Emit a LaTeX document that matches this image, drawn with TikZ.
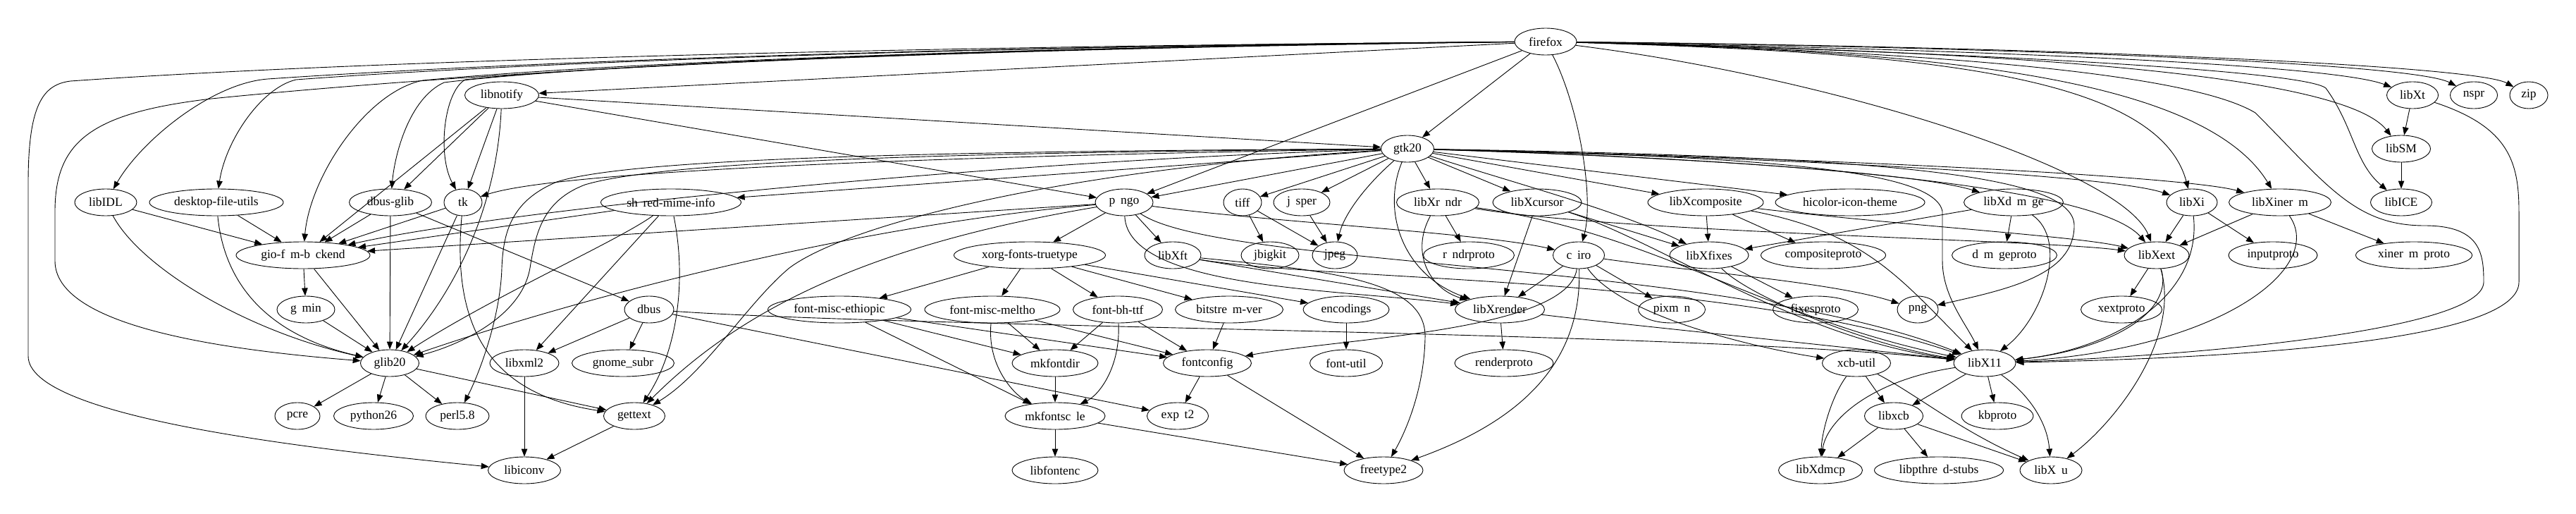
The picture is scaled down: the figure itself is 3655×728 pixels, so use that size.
\documentclass[tikz,border=0pt]{standalone}
\usepackage{fontspec}
\setmainfont{Liberation Serif}
\usetikzlibrary{arrows.meta,shapes.geometric}
\newcommand\missa{\hspace{0.44em}}
\begin{document}
\begin{tikzpicture}[x=1pt,y=-1pt,
  nd/.style={draw, ellipse, line width=0.9pt, minimum height=38pt, inner sep=0pt, font=\fontsize{17.5}{17.5}\selectfont},
  ed/.style={line width=0.9pt, -{Triangle[length=11pt,width=8.5pt]}}]
\useasboundingbox[fill=white] (0,0) rectangle (3655,728);
% row 1-3
\node[nd,minimum width=88pt] (ff) at (2193,59) {firefox};
\node[nd,minimum width=105pt] (notify) at (712,135) {libnotify};
\node[nd,minimum width=73pt] (xt) at (3423,135) {libXt};
\node[nd,minimum width=67pt] (nspr) at (3510,135) {nspr};
\node[nd,minimum width=54pt] (zip) at (3588,135) {zip};
\node[nd,minimum width=75pt] (gtk) at (1997,211) {gtk20};
\node[nd,minimum width=83pt] (sm) at (3407,211) {libSM};
% row 4
\node[nd,minimum width=88pt] (idl) at (150,287) {libIDL};
\node[nd,minimum width=190pt] (dfu) at (307,287) {desktop-file-utils};
\node[nd,minimum width=117pt] (dbg) at (554,287) {dbus-glib};
\node[nd,minimum width=54pt] (tk) at (657,287) {tk};
\node[nd,minimum width=199pt] (shm) at (952,287) {sh\missa red-mime-info};
\node[nd,minimum width=82pt] (pango) at (1595,287) {p\missa ngo};
\node[nd,minimum width=54pt] (tiff) at (1763,287) {tiff};
\node[nd,minimum width=80pt] (jasper) at (1847,287) {j\missa sper};
\node[nd,minimum width=117pt] (xrandr) at (2040,287) {libXr\missa ndr};
\node[nd,minimum width=126pt] (xcursor) at (2181,287) {libXcursor};
\node[nd,minimum width=164pt] (xcomp) at (2420,287) {libXcomposite};
\node[nd,minimum width=212pt] (hicolor) at (2625,287) {hicolor-icon-theme};
\node[nd,minimum width=141pt] (xdamage) at (2857,287) {libXd\missa m\missa ge};
\node[nd,minimum width=72pt] (xi) at (3110,287) {libXi};
\node[nd,minimum width=145pt] (xinerama) at (3235,287) {libXiner\missa m};
\node[nd,minimum width=87pt] (ice) at (3407,287) {libICE};
% row 5
\node[nd,minimum width=190pt] (gfb) at (430,362) {gio-f\missa m-b\missa ckend};
\node[nd,minimum width=215pt] (xfttt) at (1461,362) {xorg-fonts-truetype};
\node[nd,minimum width=80pt] (xft) at (1664,362) {libXft};
\node[nd,minimum width=82pt] (jbig) at (1802,362) {jbigkit};
\node[nd,minimum width=64pt] (jpeg) at (1894,362) {jpeg};
\node[nd,minimum width=129pt] (randrp) at (2084,362) {r\missa ndrproto};
\node[nd,minimum width=73pt] (cairo) at (2240,362) {c\missa iro};
\node[nd,minimum width=112pt] (xfixes) at (2425,362) {libXfixes};
\node[nd,minimum width=177pt] (compp) at (2587,362) {compositeproto};
\node[nd,minimum width=149pt] (damp) at (2844,362) {d\missa m\missa geproto};
\node[nd,minimum width=92pt] (xext) at (3060,362) {libXext};
\node[nd,minimum width=126pt] (inputp) at (3225,362) {inputproto};
\node[nd,minimum width=165pt] (xinp) at (3425,362) {xiner\missa m\missa proto};
% row 6
\node[nd,minimum width=82pt] (gamin) at (434,439) {g\missa min};
\node[nd,minimum width=70pt] (dbus) at (921,439) {dbus};
\node[nd,minimum width=203pt] (fme) at (1191,439) {font-misc-ethiopic};
\node[nd,minimum width=192pt] (fmm) at (1408,439) {font-misc-meltho};
\node[nd,minimum width=127pt] (fbh) at (1586,439) {font-bh-ttf};
\node[nd,minimum width=153pt] (vera) at (1744,439) {bitstre\missa m-ver\missa};
\node[nd,minimum width=122pt] (enc) at (1910,439) {encodings};
\node[nd,minimum width=127pt] (xrender) at (2128,439) {libXrender};
\node[nd,minimum width=95pt] (pixman) at (2372,439) {pixm\missa n};
\node[nd,minimum width=121pt] (fixp) at (2576,439) {fixesproto};
\node[nd,minimum width=58pt] (png) at (2721,439) {png};
\node[nd,minimum width=115pt] (xextp) at (3010,439) {xextproto};
% row 7
\node[nd,minimum width=83pt] (glib) at (553,515) {glib20};
\node[nd,minimum width=98pt] (xml) at (744,515) {libxml2};
\node[nd,minimum width=145pt] (gsubr) at (884,515) {gnome\_subr};
\node[nd,minimum width=122pt] (mkdir) at (1497,515) {mkfontdir};
\node[nd,minimum width=125pt] (fc) at (1713,515) {fontconfig};
\node[nd,minimum width=103pt] (futil) at (1910,515) {font-util};
\node[nd,minimum width=140pt] (renderp) at (2134,515) {renderproto};
\node[nd,minimum width=97pt] (xcbu) at (2634,515) {xcb-util};
\node[nd,minimum width=88pt] (x11) at (2816,515) {libX11};
% row 8
\node[nd,minimum width=64pt] (pcre) at (422,590) {pcre};
\node[nd,minimum width=113pt] (py) at (530,590) {python26};
\node[nd,minimum width=90pt] (perl) at (649,590) {perl5.8};
\node[nd,minimum width=87pt] (gettext) at (900,590) {gettext};
\node[nd,minimum width=142pt] (mkscale) at (1497,590) {mkfontsc\missa le};
\node[nd,minimum width=87pt] (expat) at (1671,590) {exp\missa t2};
\node[nd,minimum width=83pt] (xcb) at (2687,590) {libxcb};
\node[nd,minimum width=102pt] (kbp) at (2834,590) {kbproto};
% row 9
\node[nd,minimum width=103pt] (iconv) at (744,667) {libiconv};
\node[nd,minimum width=122pt] (fontenc) at (1497,667) {libfontenc};
\node[nd,minimum width=112pt] (ft) at (1963,667) {freetype2};
\node[nd,minimum width=119pt] (xdmcp) at (2583,667) {libXdmcp};
\node[nd,minimum width=183pt] (pthr) at (2751,667) {libpthre\missa d-stubs};
\node[nd,minimum width=88pt] (xau) at (2910,667) {libX\missa u};

% ---- firefox edges ----
\draw[ed] (ff) -- (notify);
\draw[ed] (ff) -- (gtk);
\draw[ed] (ff) -- (pango);
\draw[ed] (ff) .. controls (2240,150) and (2262,280) .. (cairo);
\draw[ed] (ff) .. controls (1500,64) and (600,80) .. (100,115) .. controls (60,120) and (40,150) .. (40,260) -- (40,505) .. controls (40,590) and (420,635) .. (iconv);
\draw[ed] (ff) .. controls (1300,68) and (700,100) .. (300,140) .. controls (130,160) and (78,200) .. (78,300) -- (78,370) .. controls (78,460) and (300,495) .. (glib);
\draw[ed] (ff) .. controls (1300,66) and (700,90) .. (380,112) .. controls (300,118) and (200,200) .. (idl);
\draw[ed] (ff) .. controls (1300,66) and (700,92) .. (420,113) .. controls (370,125) and (320,200) .. (dfu);
\draw[ed] (ff) .. controls (1300,68) and (800,95) .. (600,114) .. controls (520,130) and (440,250) .. (gfb);
\draw[ed] (ff) .. controls (1300,68) and (800,96) .. (630,117) .. controls (580,140) and (560,220) .. (dbg);
\draw[ed] (ff) .. controls (1300,70) and (800,97) .. (660,113) .. controls (630,130) and (620,220) .. (tk);
\draw[ed] (ff) .. controls (2700,68) and (3300,88) .. (xt);
\draw[ed] (ff) .. controls (2800,66) and (3420,88) .. (nspr);
\draw[ed] (ff) .. controls (2900,66) and (3510,92) .. (zip);
\draw[ed] (ff) .. controls (2800,72) and (3320,100) .. (sm);
\draw[ed] (ff) .. controls (2800,74) and (3270,100) .. (3300,125) .. controls (3340,180) and (3340,230) .. (ice);
\draw[ed] (ff) .. controls (2700,74) and (3060,100) .. (xi);
\draw[ed] (ff) .. controls (2700,72) and (3120,100) .. (xinerama);
\draw[ed] (ff) .. controls (2600,110) and (3010,240) .. (xext);
\draw[ed] (ff) .. controls (2700,72) and (3100,100) .. (3200,160) .. controls (3300,260) and (3340,320) .. (3440,320) .. controls (3520,320) and (3524,360) .. (3524,400) .. controls (3524,470) and (3100,505) .. (x11);

% ---- libnotify ----
\draw[ed] (notify) -- (gtk);
\draw[ed] (notify) -- (pango);
\draw[ed] (notify) -- (dbg);
\draw[ed] (notify) -- (gfb);
\draw[ed] (notify) -- (tk);
\draw[ed] (notify) .. controls (705,300) and (640,420) .. (glib);

% ---- gtk20 ----
\draw[ed] (gtk) .. controls (1400,220) and (800,240) .. (tk);
\draw[ed] (gtk) -- (shm);
\draw[ed] (gtk) .. controls (1400,228) and (700,300) .. (gfb);
\draw[ed] (gtk) .. controls (1400,216) and (950,226) .. (830,262) .. controls (770,285) and (760,330) .. (752,380) .. controls (740,450) and (650,490) .. (glib);
\draw[ed] (gtk) .. controls (1400,214) and (900,222) .. (790,258) .. controls (725,285) and (714,330) .. (712,380) .. controls (710,450) and (680,530) .. (perl);
\draw[ed] (gtk) .. controls (1500,240) and (1200,320) .. (1120,380) .. controls (1060,430) and (1000,530) .. (gettext);
\draw[ed] (gtk) -- (pango);
\draw[ed] (gtk) -- (tiff);
\draw[ed] (gtk) -- (jasper);
\draw[ed] (gtk) .. controls (1930,270) and (1905,310) .. (jpeg);
\draw[ed] (gtk) -- (xrandr);
\draw[ed] (gtk) -- (xcursor);
\draw[ed] (gtk) -- (xcomp);
\draw[ed] (gtk) -- (hicolor);
\draw[ed] (gtk) .. controls (2300,220) and (2700,240) .. (xdamage);
\draw[ed] (gtk) .. controls (2150,260) and (2300,300) .. (xfixes);
\draw[ed] (gtk) .. controls (2600,226) and (3000,250) .. (xi);
\draw[ed] (gtk) .. controls (2600,224) and (3100,250) .. (xinerama);
\draw[ed] (gtk) .. controls (2600,228) and (2980,270) .. (xext);
\draw[ed] (gtk) .. controls (2500,222) and (2745,240) .. (2756,300) -- (2756,370) .. controls (2756,420) and (2790,460) .. (x11);
\draw[ed] (gtk) .. controls (2700,222) and (2943,250) .. (2943,320) .. controls (2943,390) and (2850,410) .. (png);
\draw[ed] (gtk) .. controls (1960,300) and (1990,390) .. (xrender);

% ---- pango ----
\draw[ed] (pango) -- (xfttt);
\draw[ed] (pango) -- (xft);
\draw[ed] (pango) .. controls (1800,315) and (2100,330) .. (cairo);
\draw[ed] (pango) -- (gfb);
\draw[ed] (pango) .. controls (1200,320) and (800,430) .. (glib);
\draw[ed] (pango) .. controls (1250,345) and (1060,430) .. (gettext);
\draw[ed] (pango) .. controls (1600,410) and (1900,410) .. (xrender);
\draw[ed] (pango) .. controls (1730,380) and (2450,370) .. (x11);

% ---- cairo ----
\draw[ed] (cairo) -- (xrender);
\draw[ed] (cairo) -- (pixman);
\draw[ed] (cairo) .. controls (2400,385) and (2600,400) .. (png);
\draw[ed] (cairo) .. controls (2225,470) and (1900,480) .. (fc);
\draw[ed] (cairo) .. controls (2245,520) and (2150,600) .. (ft);
\draw[ed] (cairo) .. controls (2300,450) and (2500,495) .. (xcbu);

% ---- fonts ----
\draw[ed] (xfttt) -- (fme);
\draw[ed] (xfttt) -- (fmm);
\draw[ed] (xfttt) -- (fbh);
\draw[ed] (xfttt) -- (vera);
\draw[ed] (xfttt) -- (enc);
\draw[ed] (xft) -- (xrender);
\draw[ed] (xft) .. controls (1900,385) and (2025,400) .. (2022,480) .. controls (2020,560) and (1990,620) .. (ft);
\draw[ed] (xft) .. controls (1900,400) and (2450,390) .. (x11);
\draw[ed] (fme) -- (mkdir);
\draw[ed] (fme) -- (mkscale);
\draw[ed] (fme) -- (fc);
\draw[ed] (fmm) -- (mkdir);
\draw[ed] (fmm) .. controls (1400,520) and (1440,560) .. (mkscale);
\draw[ed] (fmm) -- (fc);
\draw[ed] (fbh) -- (mkdir);
\draw[ed] (fbh) .. controls (1590,520) and (1560,560) .. (mkscale);
\draw[ed] (fbh) -- (fc);
\draw[ed] (vera) -- (fc);
\draw[ed] (enc) -- (futil);
\draw[ed] (mkdir) -- (mkscale);
\draw[ed] (mkscale) -- (fontenc);
\draw[ed] (mkscale) -- (ft);
\draw[ed] (fc) -- (expat);
\draw[ed] (fc) -- (ft);

% ---- dbus etc ----
\draw[ed] (dbus) -- (xml);
\draw[ed] (dbus) -- (gsubr);
\draw[ed] (dbus) -- (expat);
\draw[ed] (dbus) .. controls (1300,465) and (2400,470) .. (x11);
\draw[ed] (dbg) -- (dbus);
\draw[ed] (dbg) -- (gfb);
\draw[ed] (dbg) -- (glib);
\draw[ed] (shm) -- (gfb);
\draw[ed] (shm) .. controls (880,340) and (700,420) .. (glib);
\draw[ed] (shm) -- (xml);
\draw[ed] (shm) .. controls (975,400) and (960,500) .. (gettext);
\draw[ed] (tk) -- (gfb);
\draw[ed] (tk) -- (glib);
\draw[ed] (tk) .. controls (640,470) and (700,560) .. (gettext);
\draw[ed] (idl) -- (gfb);
\draw[ed] (idl) .. controls (200,380) and (350,470) .. (glib);
\draw[ed] (dfu) -- (gfb);
\draw[ed] (dfu) .. controls (320,420) and (400,480) .. (glib);
\draw[ed] (gfb) -- (gamin);
\draw[ed] (gfb) -- (glib);
\draw[ed] (gamin) -- (glib);
\draw[ed] (glib) -- (pcre);
\draw[ed] (glib) -- (py);
\draw[ed] (glib) -- (perl);
\draw[ed] (glib) -- (gettext);
\draw[ed] (xml) -- (iconv);
\draw[ed] (gettext) -- (iconv);

% ---- image libs ----
\draw[ed] (tiff) -- (jbig);
\draw[ed] (tiff) -- (jpeg);
\draw[ed] (jasper) -- (jpeg);

% ---- X libs ----
\draw[ed] (xrandr) -- (randrp);
\draw[ed] (xrandr) .. controls (2000,360) and (2030,410) .. (xrender);
\draw[ed] (xrandr) .. controls (2300,330) and (2900,340) .. (xext);
\draw[ed] (xrandr) .. controls (2350,330) and (2500,450) .. (x11);
\draw[ed] (xcursor) -- (xrender);
\draw[ed] (xcursor) -- (xfixes);
\draw[ed] (xcursor) .. controls (2350,340) and (2550,480) .. (x11);
\draw[ed] (xcomp) -- (xfixes);
\draw[ed] (xcomp) -- (compp);
\draw[ed] (xcomp) .. controls (2700,320) and (2950,335) .. (xext);
\draw[ed] (xcomp) .. controls (2650,330) and (2700,400) .. (x11);
\draw[ed] (xdamage) -- (xfixes);
\draw[ed] (xdamage) -- (damp);
\draw[ed] (xdamage) .. controls (2935,340) and (2900,450) .. (x11);
\draw[ed] (xfixes) -- (fixp);
\draw[ed] (xfixes) .. controls (2480,420) and (2650,490) .. (x11);
\draw[ed] (xi) -- (xext);
\draw[ed] (xi) -- (inputp);
\draw[ed] (xi) .. controls (3125,420) and (3000,495) .. (x11);
\draw[ed] (xinerama) -- (xext);
\draw[ed] (xinerama) -- (xinp);
\draw[ed] (xinerama) .. controls (3300,380) and (3150,495) .. (x11);
\draw[ed] (xext) -- (xextp);
\draw[ed] (xext) .. controls (3085,440) and (3000,495) .. (x11);
\draw[ed] (xext) .. controls (3095,480) and (3000,600) .. (xau);
\draw[ed] (xt) -- (sm);
\draw[ed] (xt) .. controls (3560,180) and (3574,230) .. (3574,300) -- (3574,400) .. controls (3574,470) and (3300,505) .. (x11);
\draw[ed] (sm) -- (ice);
\draw[ed] (xrender) -- (renderp);
\draw[ed] (xrender) .. controls (2300,460) and (2600,490) .. (x11);
\draw[ed] (x11) .. controls (2650,540) and (2590,600) .. (xdmcp);
\draw[ed] (x11) -- (xcb);
\draw[ed] (x11) -- (kbp);
\draw[ed] (x11) .. controls (2880,560) and (2905,600) .. (xau);
\draw[ed] (xcbu) .. controls (2600,560) and (2585,610) .. (xdmcp);
\draw[ed] (xcbu) -- (xcb);
\draw[ed] (xcbu) .. controls (2720,560) and (2780,610) .. (xau);
\draw[ed] (xcb) -- (xdmcp);
\draw[ed] (xcb) -- (pthr);
\draw[ed] (xcb) -- (xau);
\end{tikzpicture}
\end{document}
